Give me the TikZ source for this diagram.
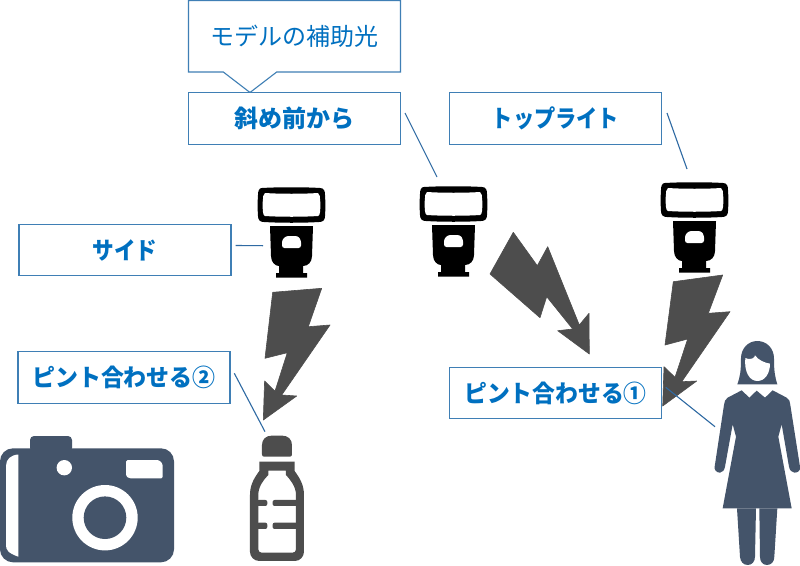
\documentclass[tikz,border=0pt]{standalone}
\usepackage{graphicx}
\usepackage{fontspec}
\newfontfamily\cjk{Noto Sans CJK JP}
\definecolor{boxline}{HTML}{3F7FB5}
\definecolor{leader}{HTML}{2F6AA3}
\definecolor{bluetext}{HTML}{0070C0}
\definecolor{slate}{HTML}{44546A}
\definecolor{boltgray}{HTML}{4D4D4D}
\tikzset{
  labelbox/.style={draw=boxline,line width=1.1pt,fill=white,text=bluetext,minimum width=212pt,minimum height=51.5pt,inner sep=0pt,font=\cjk\bfseries\fontsize{24}{28}\selectfont},
  calloutbox/.style={draw=boxline,line width=1.1pt,line join=miter},
  callouttext/.style={inner sep=0pt,text=bluetext,font=\cjk\fontsize{24}{28}\selectfont},
  leaderline/.style={draw=leader,line width=1.1pt},
  bolt/.style={fill=boltgray,draw=boltgray,line width=0.6pt,line join=round},
  pics/flashicon/.style={code={
    \fill[black] (4,0) .. controls (20,-1) and (47,-1) .. (62,0) .. controls (66,0) and (67,3) .. (67,7)
      .. controls (67.5,14) and (67.5,21) .. (67,28) .. controls (67,32) and (65,34) .. (61,34)
      .. controls (45,35) and (22,35) .. (6,34) .. controls (2,34) and (0,32) .. (0,28)
      .. controls (-0.5,21) and (-0.5,14) .. (0,7) .. controls (0,3) and (1,0) .. (4,0) -- cycle;
    \fill[white] (7,5) .. controls (22,6) and (45,6) .. (60,5) .. controls (62,7) and (62,9) .. (62,11)
      .. controls (62.5,15) and (62.5,19) .. (62,24) .. controls (62,26) and (61,28) .. (60,28)
      .. controls (45,29) and (22,29) .. (7,28) .. controls (6,28) and (5,26) .. (5,24)
      .. controls (4.5,19) and (4.5,15) .. (5,11) .. controls (5,9) and (5,7) .. (7,5) -- cycle;
    \fill[black] (12,38) -- (55,38) -- (54,68) .. controls (54,74) and (50,78) .. (45,78) -- (45,85) -- (49,85) -- (49,89.5)
      -- (18,89.5) -- (18,85) -- (21,85) -- (21,78) .. controls (17,78) and (13,74) .. (13,68) -- cycle;
    \fill[white,rounded corners=2.5pt] (28,48) -- (40,48) -- (43,52) -- (43,60) -- (24,60) -- (24,52) -- cycle;
  }}
}
\begin{document}
\begin{tikzpicture}[x=1pt,y=-1pt]
\useasboundingbox[fill=white] (0,0) rectangle (800,565);

% Flash units
\pic at (258,188) {flashicon};
\pic at (420,187) {flashicon};
\pic at (661,183) {flashicon};

% Bolts
\path[bolt] (272.7,292.3) -- (321.7,288.3) -- (308.3,326.7) -- (330,325) -- (281.7,395) -- (296.7,396) -- (263.3,420) -- (264.6,381) -- (275,391.2) -- (287.3,352.7) -- (265,358.3) -- cycle;
\path[bolt] (490,274) -- (513.3,232.3) -- (537.3,265.7) -- (547.7,246.7) -- (579.3,325) -- (589,313.3) -- (589.3,354) -- (557.7,330.7) -- (572.7,329) -- (546.7,296.7) -- (540,317.7) -- cycle;
\path[bolt] (673.3,281.7) -- (722.7,275) -- (708.3,313.3) -- (730,311.7) -- (681.7,381.7) -- (696.7,381) -- (662.7,406) -- (664,366.7) -- (675,377.3) -- (687.7,339) -- (665,345) -- cycle;

% Callout
\draw[calloutbox] (188.5,0.5) -- (400.5,0.5) -- (400.5,72) -- (276.7,72) -- (250,92.5) -- (223.3,72) -- (188.5,72) -- cycle;
\node[callouttext] (sub) at (294.5,36) {モデルの補助光};

% Labels
\node[labelbox] (front) at (294.5,118.5) {斜め前から};
\node[labelbox] (top) at (555.5,118.5) {\scalebox{0.885}[1]{トップライト}};
\node[labelbox] (side) at (125,250) {\scalebox{0.9}[1]{サイド}};
\node[labelbox] (focus2) at (124,377.5) {\scalebox{0.955}[1]{ピント合わせる②}};
\node[labelbox] (focus1) at (555.5,393) {\scalebox{0.95}[1]{ピント合わせる①}};

% Leaders
\coordinate (frontA) at (405,113);
\coordinate (frontB) at (437,177);
\coordinate (topA) at (667,113);
\coordinate (topB) at (687,169);
\coordinate (sideA) at (235.7,245.5);
\coordinate (sideB) at (263,245.7);
\coordinate (focusTwoA) at (234.3,373.3);
\coordinate (focusTwoB) at (265,431.7);
\coordinate (focusOneA) at (665.7,387.3);
\coordinate (focusOneB) at (715,426.7);
\draw[leaderline] (frontA) -- (frontB);
\draw[leaderline] (topA) -- (topB);
\draw[leaderline] (sideA) -- (sideB);
\draw[leaderline] (focusTwoA) -- (focusTwoB);
\draw[leaderline] (focusOneA) -- (focusOneB);

% Camera
\fill[slate,rounded corners=4pt] (30,452) -- (30,436) -- (72,436) -- (72,452) -- cycle;
\fill[slate,rounded corners=13pt] (0,448.3) rectangle (174,562.3);
\fill[white] (18.3,454.5) .. controls (11,455) and (6,459) .. (6,466) -- (6,545) .. controls (6,550) and (8,553) .. (18.3,556.7) -- cycle;
\fill[white] (64.3,467.7) circle (7.7);
\fill[white,rounded corners=1.5pt] (126,460) -- (159,460) -- (162.7,464) -- (162.7,478.3) -- (129,478.3) -- (126,476) -- cycle;
\fill[white] (105,517.7) circle (32.7);
\fill[slate] (105,517.7) circle (21.3);

% Bottle
\begin{scope}[shift={(0,340)},x=0.3333pt,y=-0.3333pt]
\fill[boltgray] (792,350) .. controls (788,350) and (786,347) .. (786,343) -- (786,315) .. controls (786,298) and (798,287) .. (815,287) -- (847,287) .. controls (864,287) and (876,298) .. (876,315) -- (876,343) .. controls (876,347) and (874,350) .. (870,350) -- cycle;
\fill[boltgray,even odd rule] (778,365) -- (884,365) -- (884,393) .. controls (900,415) and (912,435) .. (912,465) -- (912,635) .. controls (912,650) and (900,663) .. (885,663) -- (778,663) .. controls (762,663) and (750,650) .. (750,635) -- (750,465) .. controls (750,435) and (762,415) .. (778,393) -- cycle
 (805,392) -- (805,405) .. controls (790,420) and (775,440) .. (775,465) -- (775,628) .. controls (775,634) and (779,638) .. (785,638) -- (878,638) .. controls (884,638) and (888,634) .. (888,628) -- (888,465) .. controls (888,440) and (872,420) .. (858,405) -- (858,392) -- cycle;
\fill[boltgray,rounded corners=2pt] (770,480) -- (802,480) -- (802,498) -- (770,498) -- cycle;
\fill[boltgray,rounded corners=2pt] (818,480) -- (895,480) -- (895,498) -- (818,498) -- cycle;
\fill[boltgray,rounded corners=2pt] (770,548) -- (802,548) -- (802,567) -- (770,567) -- cycle;
\fill[boltgray,rounded corners=2pt] (818,548) -- (895,548) -- (895,567) -- (818,567) -- cycle;
\end{scope}

% Woman
\begin{scope}[shift={(640,330)},x=0.3333pt,y=-0.3333pt]
\fill[slate] (292,163) .. controls (300,140) and (303,125) .. (303,85) .. controls (303,55) and (325,33) .. (352,33) .. controls (380,33) and (402,55) .. (402,85) .. controls (402,125) and (405,140) .. (412,163) -- cycle;
\fill[white] (316,84) .. controls (335,92) and (345,82) .. (345,76) .. controls (355,90) and (372,98) .. (390,101) .. controls (390,130) and (375,153) .. (352,153) .. controls (328,153) and (312,125) .. (316,84) -- cycle;
\fill[slate] (305,181) -- (328,203) -- (350,182) -- (375,203) -- (398,181) -- (440,203) .. controls (448,207) and (450,215) .. (451,225) -- (480,410) .. controls (482,422) and (474,428) .. (463,428) .. controls (455,428) and (449,420) .. (447,410) -- (425,283) -- (415,320) -- (455,535) -- (248,535) -- (288,320) -- (278,283) -- (255,410) .. controls (253,420) and (248,428) .. (240,428) .. controls (230,428) and (222,420) .. (224,410) -- (252,225) .. controls (253,215) and (256,207) .. (263,203) -- cycle;
\fill[slate] (291,535) -- (300,680) .. controls (301,695) and (310,705) .. (323,705) .. controls (336,705) and (345,695) .. (345,680) -- (348,535) -- cycle;
\fill[slate] (358,535) -- (360,680) .. controls (360,695) and (368,705) .. (381,705) .. controls (394,705) and (403,695) .. (403,680) -- (412,535) -- cycle;
\end{scope}
\end{tikzpicture}
\end{document}
